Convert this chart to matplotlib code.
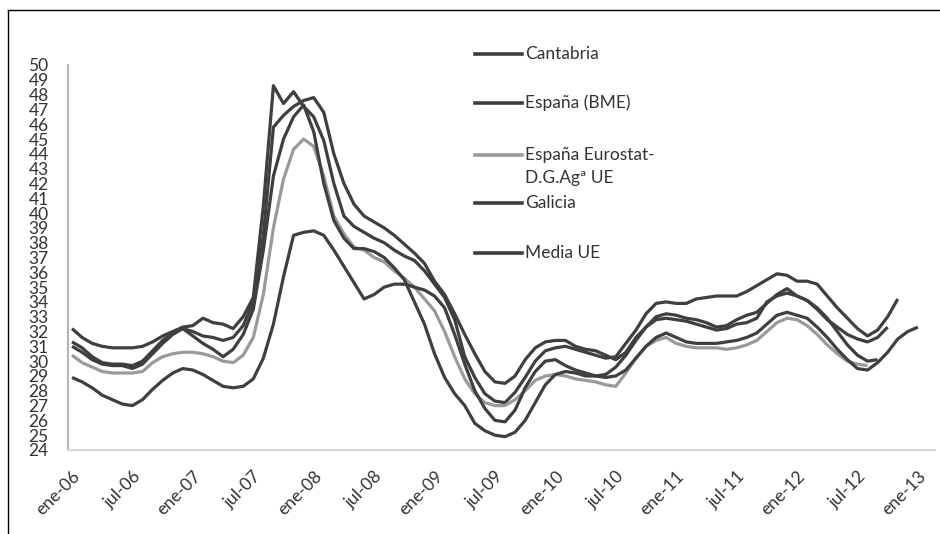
import matplotlib
matplotlib.use('Agg')
import matplotlib.pyplot as plt
from matplotlib.lines import Line2D
import numpy as np

nan = np.nan

# monthly prices, ene-06 .. ene-13 (85 months)
tick_labels = ['ene-06', 'jul-06', 'ene-07', 'jul-07', 'ene-08', 'jul-08', 'ene-09', 'jul-09',
               'ene-10', 'jul-10', 'ene-11', 'jul-11', 'ene-12', 'jul-12', 'ene-13']

cantabria = [32.2, 31.6, 31.2, 31.0, 30.9, 30.9, 30.9, 31.0, 31.3, 31.7, 32.0, 32.3,
             32.4, 32.9, 32.6, 32.5, 32.2, 33.0, 34.3, 40.5, 48.6, 47.4, 48.2, 47.2,
             46.5, 44.9, 42.0, 39.8, 39.1, 38.7, 38.3, 38.0, 37.5, 37.1, 36.8, 36.1,
             35.2, 34.3, 32.8, 30.3, 28.9, 27.8, 27.3, 27.2, 27.9, 28.9, 30.0, 30.7,
             30.9, 31.0, 30.8, 30.6, 30.4, 30.2, 30.3, 31.2, 32.1, 33.2, 33.9, 34.0,
             33.9, 33.9, 34.2, 34.3, 34.4, 34.4, 34.4, 34.7, 35.1, 35.5, 35.9, 35.8,
             35.4, 35.4, 35.2, 34.4, 33.6, 32.9, 32.2, 31.7, 32.1, 33.0, 34.2, nan,
             nan]

espana_bme = [31.3, 30.9, 30.3, 29.9, 29.8, 29.8, 29.7, 30.0, 30.7, 31.4, 31.9, 32.2,
              32.0, 31.7, 31.6, 31.4, 31.6, 32.4, 34.0, 38.5, 45.8, 46.6, 47.2, 47.6,
              47.8, 46.8, 44.0, 42.0, 40.6, 39.8, 39.4, 39.0, 38.5, 37.9, 37.3, 36.6,
              35.4, 34.5, 33.2, 31.8, 30.5, 29.3, 28.6, 28.5, 29.0, 30.1, 30.9, 31.3,
              31.4, 31.4, 31.0, 30.8, 30.7, 30.4, 30.1, 30.6, 31.6, 32.3, 33.0, 33.2,
              33.1, 32.9, 32.8, 32.6, 32.3, 32.4, 32.8, 33.1, 33.3, 33.9, 34.5, 34.9,
              34.4, 34.1, 33.5, 32.8, 32.3, 31.8, 31.5, 31.3, 31.6, 32.3, nan, nan,
              nan]

espana_eurostat = [30.4, 29.9, 29.6, 29.3, 29.2, 29.2, 29.2, 29.3, 29.9, 30.3, 30.5, 30.6,
                   30.6, 30.5, 30.3, 30.0, 29.9, 30.4, 31.6, 34.5, 39.0, 42.3, 44.3, 45.0,
                   44.5, 42.5, 39.8, 38.6, 37.7, 37.5, 37.0, 36.7, 36.1, 35.6, 35.0, 34.2,
                   33.4, 32.0, 30.3, 28.8, 27.8, 27.2, 27.0, 27.0, 27.4, 28.0, 28.7, 29.0,
                   29.1, 29.0, 28.8, 28.7, 28.6, 28.4, 28.3, 29.2, 30.2, 31.0, 31.4, 31.6,
                   31.2, 31.0, 30.9, 30.9, 30.9, 30.8, 30.9, 31.1, 31.4, 32.0, 32.6, 32.9,
                   32.8, 32.4, 31.8, 31.1, 30.5, 30.0, 29.8, 29.7, nan, nan, nan, nan,
                   nan]

galicia = [31.0, 30.6, 30.1, 29.8, 29.7, 29.7, 29.5, 29.8, 30.5, 31.2, 31.8, 32.2,
           31.7, 31.2, 30.8, 30.3, 30.8, 31.8, 33.5, 37.5, 42.5, 45.0, 46.5, 47.3,
           45.5, 42.0, 39.5, 38.3, 37.6, 37.6, 37.4, 37.0, 36.3, 35.5, 34.0, 32.5,
           30.5, 28.9, 27.8, 27.0, 25.8, 25.3, 25.0, 24.9, 25.2, 26.0, 27.2, 28.4,
           29.1, 29.3, 29.2, 29.0, 29.0, 29.1, 29.6, 30.4, 31.4, 32.3, 32.8, 32.9,
           32.8, 32.7, 32.5, 32.3, 32.1, 32.2, 32.5, 32.6, 32.9, 34.0, 34.4, 34.6,
           34.4, 34.1, 33.6, 32.9, 32.0, 31.1, 30.4, 30.0, 30.1, nan, nan, nan,
           nan]

media_ue = [28.9, 28.6, 28.2, 27.7, 27.4, 27.1, 27.0, 27.4, 28.1, 28.7, 29.2, 29.5,
            29.4, 29.1, 28.7, 28.3, 28.2, 28.3, 28.8, 30.2, 32.5, 35.7, 38.5, 38.7,
            38.8, 38.5, 37.5, 36.4, 35.3, 34.2, 34.5, 35.0, 35.2, 35.2, 35.0, 34.8,
            34.4, 33.6, 31.8, 29.8, 28.0, 26.8, 26.0, 25.9, 26.7, 28.2, 29.3, 30.0,
            30.1, 29.7, 29.4, 29.2, 29.0, 28.9, 29.0, 29.4, 30.2, 31.0, 31.6, 31.9,
            31.6, 31.3, 31.2, 31.2, 31.2, 31.3, 31.4, 31.6, 31.9, 32.5, 33.1, 33.3,
            33.1, 32.9, 32.3, 31.6, 30.8, 30.1, 29.5, 29.4, 29.9, 30.6, 31.5, 32.0,
            32.3]

labels = ['Cantabria', 'España (BME)', 'España Eurostat-\nD.G.Agª UE', 'Galicia', 'Media UE']
values = [cantabria, espana_bme, espana_eurostat, galicia, media_ue]

dark = '#3f3f3f'
light = '#9a9a9a'
colors = [dark, dark, light, dark, dark]

plt.rcParams['font.family'] = ['Lato', 'DejaVu Sans']
txt_color = '#333333'

W, H = 940, 534
fig = plt.figure(figsize=(W / 100, H / 100), dpi=100)
ax = fig.add_axes([68 / W, 1 - 450 / H, (935 - 68) / W, (450 - 65) / H])

months = np.arange(85)
for lab, v, c in zip(labels, values, colors):
  ax.plot(months, np.array(v, dtype=float), color=c, lw=2.3, solid_joinstyle='round',
          solid_capstyle='butt', label=lab)

ax.set_ylim(24, 50)
ax.set_yticks(range(24, 51))
ax.set_xlim(-0.4, 85.7)
ax.set_xticks(np.arange(0, 85, 6))
ax.set_xticklabels(tick_labels, rotation=45, ha='right', va='top', rotation_mode='anchor')

for s in ['top', 'right']:
  ax.spines[s].set_visible(False)
ax.spines['left'].set_color('#b5b5b5')
ax.spines['left'].set_linewidth(1.5)
ax.spines['bottom'].set_color('#d6d6d6')
ax.spines['bottom'].set_linewidth(1.5)
ax.tick_params(axis='both', length=0, labelsize=12.5, labelcolor=txt_color)
ax.tick_params(axis='y', pad=14)
ax.tick_params(axis='x', pad=13)

# legend, drawn by hand so the first text line sits next to its handle
leg_y = [54, 103, 155, 203, 253]
for lab, c, y in zip(labels, colors, leg_y):
  fy = 1 - y / H
  fig.add_artist(Line2D([475 / W, 522 / W], [fy, fy], transform=fig.transFigure,
                        color=c, lw=2.6))
  for i, part in enumerate(lab.split('\n')):
    fig.text(525 / W, 1 - (y + i * 23) / H, part, fontsize=12.5, color=txt_color,
             va='center', ha='left')

# frame of the original picture
fig.add_artist(Line2D([8 / W, 8 / W], [0, 1 - 10 / H], transform=fig.transFigure,
                      color='black', lw=1))
fig.add_artist(Line2D([8 / W, 1], [1 - 10 / H, 1 - 10 / H], transform=fig.transFigure,
                      color='black', lw=1))

fig.savefig('out.png', dpi=100)
